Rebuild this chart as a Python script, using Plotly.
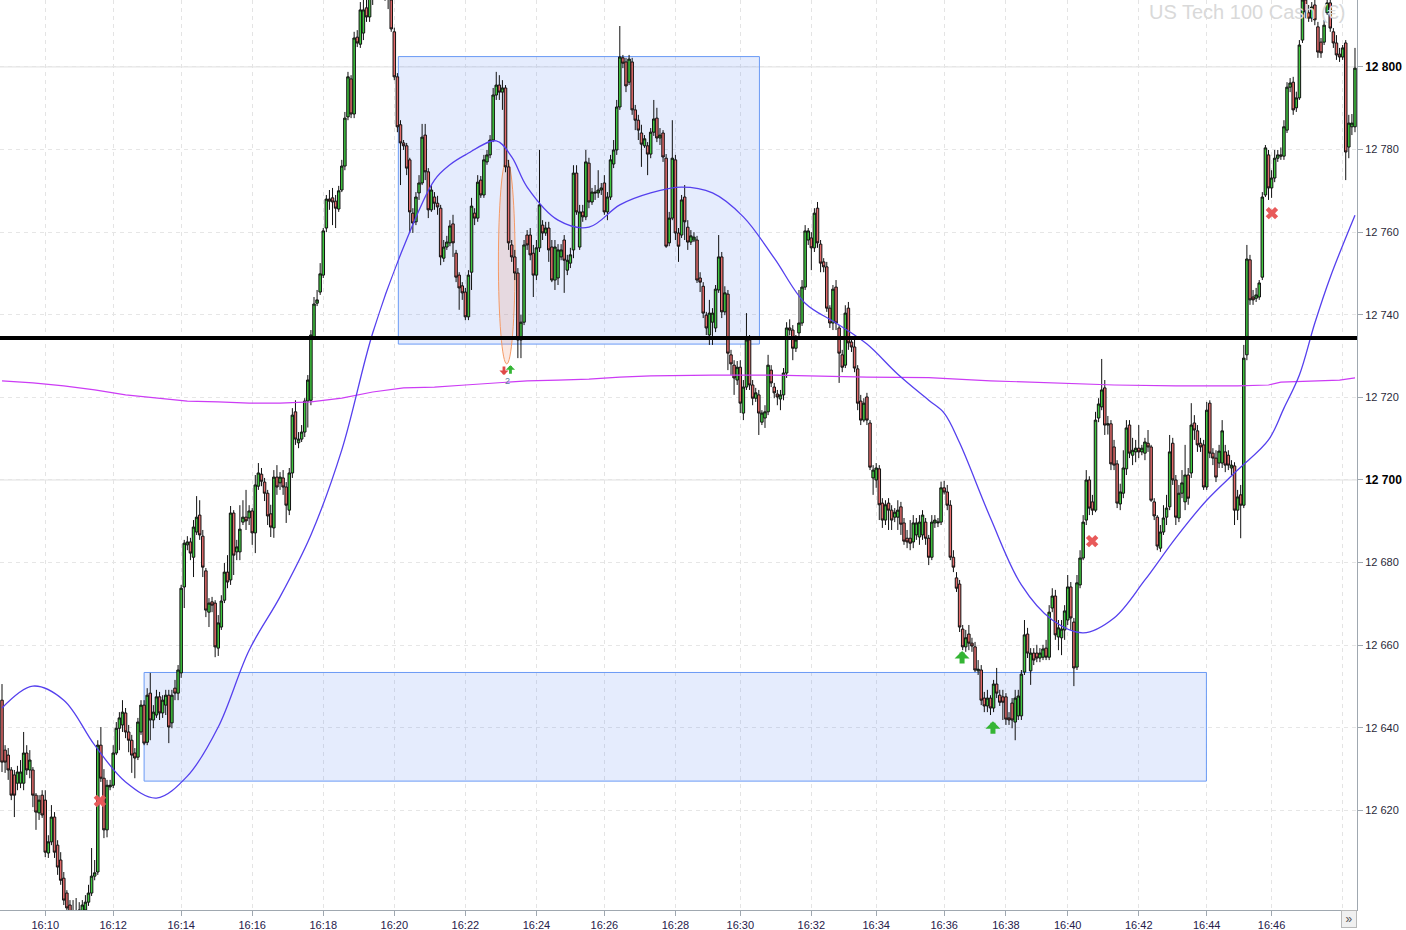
import plotly.graph_objects as go

# ---------------- data ----------------
OPEN = [
 12646.7, 12634.6, 12633.4, 12629.8, 12628.6, 12626.6, 12626.6, 12626.6, 12633.9, 12629.8,
 12629.8, 12623.7, 12619.4, 12623.7, 12622.5, 12609.7, 12612.4, 12618.4, 12611.6, 12608.0,
 12603.6, 12600.0, 12597.1, 12594.0, 12595.4, 12594.4, 12595.4, 12595.9, 12597.8, 12600.0,
 12604.1, 12605.1, 12635.8, 12627.8, 12615.3, 12625.7, 12626.1, 12633.9, 12639.9, 12640.7,
 12643.6, 12639.0, 12637.0, 12633.9, 12632.9, 12639.0, 12645.5, 12636.5, 12648.4, 12641.9,
 12643.1, 12647.5, 12643.6, 12645.5, 12647.9, 12641.2, 12649.6, 12648.4, 12653.3, 12674.1,
 12684.3, 12685.0, 12681.3, 12687.4, 12691.5, 12686.4, 12678.0, 12668.0, 12670.5, 12670.2,
 12659.3, 12664.4, 12670.9, 12677.7, 12675.8, 12692.0, 12682.6, 12682.6, 12689.8, 12691.0,
 12690.8, 12692.5, 12687.2, 12698.5, 12701.4, 12699.5, 12696.8, 12691.8, 12688.4, 12700.7,
 12699.3, 12700.5, 12698.3, 12692.7, 12701.7, 12716.5, 12709.0, 12709.9, 12711.6, 12719.1,
 12719.3, 12734.6, 12742.8, 12745.5, 12749.6, 12761.0, 12768.0, 12768.3, 12767.5, 12765.6,
 12770.2, 12776.0, 12787.9, 12797.1, 12788.6, 12807.2, 12805.5, 12808.2, 12814.3, 12812.1,
 12818.6, 12822.0, 12819.0, 12825.0, 12821.0, 12818.0, 12816.2, 12808.5, 12797.6, 12786.0,
 12781.6, 12780.9, 12777.5, 12764.6, 12762.5, 12769.5, 12771.9, 12783.5, 12774.6, 12765.4,
 12768.5, 12767.0, 12765.8, 12753.7, 12756.4, 12757.4, 12762.0, 12754.9, 12749.6, 12747.0,
 12745.5, 12739.5, 12750.3, 12764.6, 12763.4, 12772.6, 12769.0, 12777.0, 12778.7, 12782.3,
 12793.2, 12795.6, 12793.9, 12794.9, 12775.8, 12756.9, 12754.0, 12750.1, 12733.9, 12738.2,
 12759.3, 12759.3, 12754.9, 12749.6, 12756.2, 12761.7, 12759.8, 12761.0, 12756.4, 12748.4,
 12748.9, 12754.0, 12758.1, 12750.8, 12752.5, 12755.7, 12774.3, 12756.4, 12764.9, 12763.7,
 12776.7, 12767.3, 12769.7, 12769.5, 12770.2, 12771.9, 12764.9, 12768.5, 12776.5, 12779.9,
 12790.3, 12802.2, 12801.2, 12796.3, 12801.2, 12789.6, 12787.1, 12784.0, 12780.9, 12780.9,
 12778.9, 12784.2, 12787.6, 12782.8, 12784.0, 12777.9, 12757.4, 12763.4, 12777.5, 12759.8,
 12759.3, 12768.5, 12761.2, 12757.6, 12758.1, 12758.1, 12748.9, 12746.9, 12739.9, 12735.1,
 12738.2, 12736.8, 12746.0, 12754.0, 12740.7, 12745.0, 12730.3, 12727.8, 12724.2, 12727.3,
 12716.2, 12722.5, 12733.9, 12723.0, 12719.8, 12720.6, 12714.0, 12715.0, 12716.5, 12726.6,
 12722.5, 12720.8, 12719.6, 12720.6, 12725.9, 12736.8, 12736.3, 12731.9, 12735.6, 12738.0, 12746.7,
 12758.1, 12758.6, 12756.2, 12765.8, 12757.1, 12752.8, 12751.6, 12741.6, 12738.0, 12746.7,
 12736.8, 12730.3, 12727.8, 12741.6, 12733.4, 12732.2, 12726.9, 12719.1, 12714.5, 12720.1,
 12713.8, 12700.5, 12700.0, 12702.7, 12694.4, 12690.3, 12694.4, 12692.7, 12691.0, 12691.0,
 12693.5, 12689.6, 12685.9, 12685.9, 12685.0, 12686.7, 12686.2, 12686.7, 12689.8, 12685.9,
 12681.3, 12689.6, 12689.6, 12689.8, 12698.1, 12697.1, 12693.9, 12681.3, 12676.3, 12674.8, 12663.9,
 12659.6, 12662.7, 12660.5, 12659.6, 12653.8, 12654.0, 12647.2, 12645.3, 12647.2, 12644.8,
 12650.6, 12647.9, 12647.5, 12647.5, 12642.4, 12646.0, 12641.4, 12642.9, 12642.9, 12653.5,
 12662.7, 12653.8, 12658.1, 12658.1, 12656.9, 12657.1, 12659.3, 12657.1, 12669.0, 12671.9,
 12662.0, 12661.8, 12663.7, 12666.1, 12674.1, 12665.6, 12654.7, 12674.6, 12681.1, 12690.3,
 12700.0, 12694.7, 12692.7, 12715.0, 12717.7, 12722.3, 12713.3, 12713.6, 12708.0, 12703.9, 12694.2,
 12696.8, 12702.7, 12713.3, 12706.0, 12706.8, 12707.7, 12706.8, 12706.5, 12708.9, 12708.0,
 12694.7, 12691.0, 12683.5, 12687.4, 12691.0, 12693.5, 12708.9, 12700.0, 12690.8, 12696.8,
 12694.7, 12701.2, 12701.7, 12713.8, 12711.9, 12708.9, 12708.5, 12698.3, 12718.6, 12706.5,
 12705.3, 12704.1, 12704.1, 12706.8, 12706.0, 12702.9, 12703.4, 12692.7, 12696.4, 12693.9,
 12730.3, 12753.3, 12744.3, 12744.0, 12744.3, 12749.1, 12769.0, 12778.7, 12770.7, 12773.1,
 12777.9, 12778.7, 12778.4, 12784.7, 12795.1, 12796.3, 12790.1, 12792.5, 12806.5, 12816.2, 12813.1,
 12811.8, 12815.0, 12809.7, 12806.0, 12806.0, 12813.1, 12815.5, 12808.5, 12805.8, 12803.1,
 12802.4, 12805.8, 12780.6, 12785.5, 12785.5,
]
HIGH = [
 12650.6, 12635.8, 12635.1, 12630.5, 12629.8, 12630.8, 12632.2, 12639.0, 12635.8, 12634.6,
 12630.5, 12624.2, 12623.7, 12624.9, 12624.9, 12614.0, 12621.3, 12619.6, 12612.8, 12609.9,
 12605.1, 12600.7, 12598.3, 12598.3, 12598.8, 12597.8, 12598.3, 12599.5, 12602.0, 12610.9,
 12608.0, 12637.0, 12640.2, 12630.0, 12627.4, 12627.4, 12635.8, 12641.4, 12643.8, 12646.7,
 12644.8, 12640.7, 12638.3, 12635.1, 12642.4, 12646.7, 12646.7, 12649.6, 12653.3, 12645.5,
 12649.2, 12648.7, 12647.9, 12649.2, 12649.2, 12649.2, 12651.6, 12655.2, 12674.6, 12685.5,
 12686.4, 12686.0, 12690.3, 12696.1, 12695.1, 12687.9, 12678.7, 12671.4, 12671.7, 12670.9,
 12667.3, 12672.1, 12679.9, 12681.8, 12693.7, 12692.7, 12685.5, 12693.9, 12695.1, 12697.6,
 12693.9, 12693.2, 12701.2, 12704.1, 12702.9, 12700.5, 12697.6, 12694.0, 12702.4, 12703.6,
 12701.9, 12702.4, 12699.5, 12702.9, 12717.4, 12719.3, 12711.6, 12713.3, 12719.8, 12725.4,
 12736.3, 12744.3, 12746.0, 12752.5, 12761.0, 12769.0, 12770.2, 12770.7, 12769.0, 12771.2,
 12777.5, 12789.1, 12798.8, 12798.0, 12808.5, 12808.9, 12815.7, 12818.0, 12817.4, 12821.0,
 12824.0, 12826.0, 12827.0, 12828.0, 12824.0, 12823.0, 12818.0, 12809.5, 12798.5, 12787.1,
 12782.3, 12781.6, 12778.0, 12765.8, 12769.7, 12773.8, 12786.2, 12786.2, 12775.5, 12771.4,
 12769.7, 12768.8, 12766.6, 12758.1, 12759.1, 12762.9, 12764.2, 12755.7, 12750.3, 12747.9,
 12746.5, 12750.8, 12768.3, 12765.8, 12773.8, 12773.6, 12778.7, 12779.9, 12783.5, 12794.9,
 12798.8, 12798.0, 12796.8, 12795.6, 12777.5, 12758.1, 12755.7, 12751.3, 12740.0, 12758.1,
 12760.5, 12761.0, 12756.9, 12758.1, 12779.9, 12762.9, 12762.5, 12762.5, 12758.1, 12758.1,
 12757.1, 12757.1, 12759.3, 12754.5, 12756.2, 12776.2, 12776.2, 12766.6, 12766.6, 12779.9,
 12778.0, 12770.7, 12771.4, 12775.0, 12771.9, 12773.8, 12769.7, 12778.7, 12782.3, 12792.0,
 12809.9, 12802.9, 12802.2, 12802.9, 12802.2, 12790.8, 12788.4, 12786.0, 12783.5, 12781.8,
 12785.2, 12792.0, 12790.1, 12785.2, 12784.7, 12778.9, 12764.9, 12787.1, 12778.7, 12761.0,
 12769.0, 12771.4, 12762.9, 12760.5, 12760.0, 12759.1, 12750.3, 12747.9, 12740.7, 12743.6,
 12741.6, 12747.2, 12759.3, 12755.2, 12746.9, 12746.0, 12731.5, 12729.0, 12728.8, 12729.0,
 12724.2, 12740.4, 12735.1, 12724.2, 12722.3, 12721.8, 12716.9, 12718.1, 12730.3, 12727.8,
 12723.5, 12721.8, 12721.8, 12727.1, 12738.2, 12738.9, 12737.5, 12735.1, 12746.0, 12748.4, 12761.7,
 12761.0, 12760.0, 12765.8, 12767.3, 12758.1, 12753.7, 12752.8, 12742.3, 12747.2, 12748.4,
 12737.5, 12731.5, 12742.3, 12743.1, 12734.6, 12733.9, 12727.8, 12720.6, 12719.8, 12721.1,
 12714.5, 12703.6, 12704.1, 12703.6, 12695.6, 12695.1, 12695.6, 12693.9, 12693.2, 12695.1,
 12694.7, 12690.8, 12687.9, 12690.3, 12691.5, 12690.8, 12691.5, 12692.7, 12690.8, 12686.7,
 12691.5, 12691.5, 12690.8, 12699.6, 12699.8, 12698.8, 12695.1, 12683.0, 12677.7, 12675.8, 12664.9,
 12663.7, 12664.9, 12661.8, 12660.8, 12656.4, 12655.2, 12648.7, 12649.2, 12647.9, 12651.6,
 12654.5, 12649.2, 12649.2, 12648.4, 12643.8, 12647.2, 12649.2, 12649.2, 12654.0, 12666.1,
 12664.2, 12659.3, 12659.3, 12660.1, 12659.3, 12660.1, 12661.3, 12669.7, 12673.8, 12673.4,
 12666.1, 12666.1, 12669.7, 12677.0, 12675.3, 12666.6, 12677.0, 12683.0, 12691.5, 12702.4,
 12700.9, 12696.4, 12716.5, 12719.8, 12729.3, 12724.2, 12715.5, 12714.5, 12709.7, 12704.8, 12699.1,
 12707.2, 12714.5, 12714.5, 12710.2, 12709.7, 12713.3, 12708.5, 12710.2, 12712.1, 12708.5,
 12695.6, 12691.5, 12689.1, 12693.9, 12696.4, 12710.9, 12710.2, 12701.2, 12698.8, 12702.4,
 12708.5, 12702.9, 12718.6, 12715.7, 12713.3, 12710.2, 12709.7, 12718.9, 12719.3, 12707.7,
 12707.2, 12708.5, 12714.5, 12708.5, 12707.2, 12704.8, 12704.3, 12697.6, 12698.8, 12732.7,
 12756.9, 12754.5, 12746.0, 12746.5, 12748.4, 12769.7, 12781.1, 12779.9, 12775.0, 12779.9,
 12779.9, 12780.5, 12787.1, 12796.3, 12797.3, 12797.6, 12794.0, 12806.5, 12818.1, 12817.7, 12815.0,
 12815.7, 12816.7, 12810.9, 12807.0, 12811.4, 12817.4, 12816.2, 12809.4, 12807.7, 12804.6,
 12805.3, 12806.5, 12788.4, 12788.6, 12804.6,
]
LOW = [
 12629.3, 12629.1, 12627.4, 12622.5, 12618.4, 12624.9, 12625.4, 12624.9, 12628.6, 12627.8,
 12620.8, 12615.3, 12617.7, 12618.2, 12608.7, 12608.5, 12611.6, 12608.5, 12604.4, 12602.0,
 12597.1, 12595.4, 12593.5, 12592.3, 12592.0, 12592.5, 12594.0, 12595.2, 12596.9, 12599.3,
 12603.1, 12604.4, 12626.9, 12613.3, 12613.5, 12624.9, 12625.4, 12633.4, 12634.6, 12639.0,
 12637.5, 12634.1, 12629.1, 12627.8, 12632.2, 12638.3, 12635.8, 12635.8, 12637.0, 12639.9,
 12642.4, 12641.9, 12642.4, 12643.1, 12636.3, 12639.9, 12646.7, 12646.7, 12652.1, 12669.0,
 12683.0, 12680.6, 12676.5, 12686.7, 12685.5, 12676.5, 12666.8, 12664.4, 12668.0, 12657.1,
 12657.4, 12663.7, 12670.2, 12673.8, 12674.6, 12677.0, 12680.6, 12680.6, 12689.1, 12687.9,
 12689.1, 12684.3, 12682.3, 12697.6, 12698.5, 12694.9, 12689.1, 12686.2, 12686.0, 12696.4,
 12697.6, 12696.4, 12689.6, 12691.5, 12700.5, 12708.5, 12707.7, 12709.2, 12710.4, 12712.7,
 12718.1, 12733.9, 12742.1, 12744.8, 12748.9, 12760.0, 12765.4, 12761.7, 12761.0, 12764.9,
 12769.7, 12775.0, 12787.1, 12787.6, 12787.6, 12804.8, 12804.6, 12806.5, 12810.9, 12810.9,
 12815.0, 12817.0, 12817.5, 12819.0, 12816.0, 12814.0, 12808.5, 12796.8, 12784.2, 12771.4,
 12779.9, 12773.8, 12759.8, 12759.8, 12761.7, 12767.8, 12771.4, 12772.6, 12763.4, 12764.9,
 12765.4, 12764.2, 12752.0, 12752.8, 12755.7, 12756.6, 12754.0, 12747.9, 12741.2, 12743.6,
 12738.7, 12738.7, 12746.0, 12761.7, 12762.5, 12768.3, 12768.3, 12776.3, 12777.9, 12781.8,
 12792.0, 12792.0, 12789.6, 12774.5, 12755.7, 12752.8, 12748.4, 12729.5, 12729.5, 12737.5,
 12755.7, 12753.2, 12744.3, 12748.4, 12755.2, 12758.1, 12759.1, 12752.8, 12747.9, 12746.0,
 12747.2, 12753.2, 12745.3, 12749.6, 12751.3, 12753.7, 12764.2, 12755.7, 12762.5, 12762.9,
 12765.8, 12766.6, 12767.8, 12768.3, 12769.0, 12764.2, 12762.9, 12767.8, 12775.5, 12778.7,
 12789.6, 12799.7, 12793.9, 12795.6, 12788.4, 12784.7, 12782.3, 12775.8, 12780.4, 12773.8,
 12777.9, 12783.3, 12781.8, 12781.1, 12777.0, 12756.2, 12756.6, 12762.9, 12758.1, 12752.8,
 12758.6, 12758.1, 12755.7, 12756.9, 12757.6, 12747.7, 12745.5, 12739.2, 12735.1, 12732.7,
 12732.7, 12735.8, 12745.3, 12739.2, 12739.9, 12726.6, 12725.4, 12720.6, 12723.0, 12716.2,
 12714.5, 12721.8, 12721.8, 12718.1, 12718.9, 12710.9, 12713.3, 12712.6, 12715.7, 12722.5,
 12719.8, 12718.1, 12716.9, 12719.3, 12724.7, 12735.0, 12729.0, 12731.0, 12734.6, 12737.3, 12746.0,
 12756.9, 12750.8, 12755.2, 12756.2, 12750.3, 12750.3, 12740.7, 12736.8, 12736.3, 12736.3,
 12723.5, 12726.1, 12727.1, 12731.5, 12731.0, 12726.1, 12716.9, 12713.3, 12714.0, 12713.3,
 12702.4, 12696.4, 12698.1, 12690.3, 12688.4, 12689.1, 12687.9, 12687.9, 12689.8, 12687.9,
 12686.7, 12684.3, 12683.5, 12683.0, 12683.5, 12685.5, 12684.3, 12685.5, 12684.3, 12679.4,
 12680.6, 12688.4, 12688.6, 12689.1, 12696.5, 12692.7, 12680.6, 12677.7, 12672.9, 12663.2, 12658.8,
 12658.4, 12658.8, 12658.4, 12653.5, 12652.8, 12645.5, 12643.8, 12643.8, 12643.1, 12643.8,
 12647.2, 12645.3, 12641.9, 12640.7, 12640.7, 12639.9, 12637.0, 12641.9, 12641.9, 12652.8,
 12656.9, 12650.4, 12655.2, 12655.9, 12655.9, 12656.4, 12656.4, 12656.4, 12668.0, 12661.3,
 12658.8, 12657.6, 12661.3, 12664.9, 12663.7, 12650.1, 12654.0, 12673.8, 12680.6, 12689.1,
 12691.5, 12691.5, 12692.2, 12714.0, 12716.9, 12710.9, 12711.0, 12702.4, 12702.4, 12693.2, 12692.7,
 12695.6, 12701.2, 12705.3, 12703.6, 12704.3, 12705.3, 12706.0, 12704.8, 12706.8, 12694.7,
 12690.3, 12683.0, 12682.6, 12686.7, 12689.1, 12692.7, 12698.8, 12689.1, 12689.8, 12695.6,
 12692.7, 12694.0, 12700.5, 12709.7, 12706.8, 12706.8, 12697.6, 12697.6, 12705.3, 12703.6,
 12699.5, 12702.9, 12702.9, 12701.9, 12702.4, 12701.2, 12689.1, 12690.3, 12685.9, 12693.2,
 12729.0, 12742.4, 12742.4, 12743.1, 12743.6, 12748.4, 12768.5, 12767.8, 12768.3, 12772.1,
 12777.0, 12777.5, 12777.5, 12784.0, 12793.9, 12788.4, 12789.1, 12792.0, 12805.8, 12811.8, 12810.9,
 12810.9, 12810.1, 12802.2, 12802.2, 12805.3, 12812.6, 12808.5, 12804.6, 12801.7, 12801.2,
 12801.7, 12772.6, 12777.9, 12783.5, 12784.2,
]
CLOSE = [
 12631.7, 12631.7, 12629.8, 12623.7, 12623.7, 12629.3, 12629.3, 12633.9, 12629.8, 12632.2,
 12623.7, 12619.6, 12622.5, 12618.9, 12609.9, 12612.4, 12618.4, 12609.9, 12606.3, 12603.1,
 12598.3, 12596.4, 12594.9, 12595.4, 12594.0, 12595.9, 12597.1, 12597.8, 12600.0, 12604.1,
 12604.9, 12635.8, 12627.8, 12615.3, 12626.1, 12626.1, 12633.9, 12639.9, 12642.4, 12643.8,
 12639.0, 12637.0, 12633.4, 12632.7, 12641.4, 12645.5, 12636.3, 12647.9, 12641.9, 12643.8,
 12647.5, 12643.6, 12646.7, 12647.9, 12640.2, 12647.9, 12648.4, 12654.0, 12673.8, 12684.7,
 12685.0, 12682.3, 12688.6, 12691.0, 12686.7, 12678.9, 12668.5, 12670.2, 12669.7, 12659.6,
 12665.4, 12670.7, 12677.7, 12675.3, 12692.0, 12681.8, 12683.8, 12688.1, 12691.0, 12690.1,
 12692.5, 12687.2, 12698.8, 12701.7, 12699.7, 12696.8, 12691.3, 12688.6, 12700.7, 12698.3,
 12700.7, 12698.3, 12693.9, 12701.7, 12715.7, 12709.9, 12709.9, 12711.6, 12719.1, 12724.2,
 12735.1, 12742.6, 12743.6, 12749.9, 12760.3, 12768.0, 12767.5, 12767.3, 12765.8, 12770.0,
 12776.0, 12787.6, 12797.6, 12788.6, 12807.0, 12805.8, 12813.8, 12813.8, 12812.1, 12818.6,
 12822.0, 12819.0, 12825.0, 12821.0, 12818.0, 12816.5, 12809.2, 12797.6, 12785.5, 12781.6,
 12780.9, 12775.5, 12764.9, 12762.2, 12768.5, 12771.9, 12783.0, 12774.6, 12765.4, 12770.2,
 12767.0, 12766.1, 12754.0, 12756.4, 12757.6, 12761.5, 12757.4, 12749.1, 12746.5, 12745.3,
 12739.5, 12749.6, 12766.3, 12763.4, 12772.1, 12769.0, 12777.5, 12778.7, 12782.3, 12793.2,
 12795.6, 12793.9, 12794.9, 12775.8, 12757.4, 12754.0, 12750.1, 12733.9, 12738.2, 12756.9,
 12756.9, 12754.5, 12749.6, 12756.2, 12766.6, 12759.8, 12761.0, 12755.7, 12748.4, 12756.4,
 12755.7, 12755.7, 12753.2, 12753.2, 12754.5, 12774.3, 12764.9, 12764.9, 12763.7, 12777.0,
 12767.3, 12769.7, 12769.5, 12770.2, 12770.7, 12764.9, 12768.5, 12777.5, 12779.9, 12790.3,
 12802.4, 12800.9, 12795.4, 12801.9, 12789.6, 12787.1, 12784.7, 12781.3, 12782.6, 12778.9,
 12784.2, 12787.4, 12782.8, 12783.5, 12778.2, 12756.6, 12763.4, 12777.9, 12759.8, 12756.6,
 12767.8, 12762.5, 12757.6, 12759.1, 12758.8, 12748.4, 12747.9, 12740.4, 12736.8, 12740.4,
 12740.4, 12746.2, 12754.0, 12740.7, 12745.3, 12730.7, 12728.1, 12724.7, 12727.3, 12718.6,
 12722.5, 12733.9, 12723.0, 12719.8, 12721.1, 12716.2, 12716.2, 12716.5, 12727.8, 12723.5,
 12721.1, 12720.1, 12720.6, 12725.9, 12736.8, 12736.3, 12731.9, 12733.9, 12738.0, 12746.7, 12760.3,
 12760.3, 12756.2, 12764.6, 12757.4, 12752.5, 12751.6, 12741.6, 12738.0, 12746.2, 12738.0,
 12730.7, 12727.3, 12740.4, 12733.2, 12732.2, 12727.1, 12718.6, 12714.5, 12718.6, 12714.5,
 12703.1, 12702.4, 12702.9, 12694.0, 12690.3, 12694.0, 12692.7, 12690.3, 12692.2, 12692.7,
 12689.3, 12685.2, 12685.0, 12684.7, 12689.6, 12689.6, 12689.8, 12691.5, 12685.9, 12681.3,
 12689.8, 12690.3, 12689.8, 12698.1, 12697.1, 12693.9, 12681.3, 12678.9, 12673.8, 12664.4, 12659.6,
 12661.8, 12660.5, 12659.8, 12654.0, 12654.2, 12646.7, 12645.3, 12647.2, 12644.8, 12650.6,
 12648.4, 12646.2, 12646.2, 12642.1, 12641.9, 12641.9, 12647.2, 12647.7, 12653.0, 12662.5,
 12658.1, 12658.1, 12656.4, 12656.9, 12658.1, 12659.1, 12657.1, 12668.0, 12671.9, 12662.5,
 12664.2, 12663.9, 12668.3, 12674.1, 12666.6, 12654.5, 12675.1, 12681.1, 12689.8, 12700.0,
 12693.2, 12692.7, 12714.5, 12718.4, 12721.8, 12713.3, 12713.6, 12703.9, 12703.6, 12694.4, 12697.1,
 12702.9, 12712.6, 12706.5, 12707.2, 12707.7, 12706.8, 12707.7, 12709.2, 12708.0, 12695.1,
 12691.3, 12684.0, 12687.4, 12690.8, 12693.2, 12706.8, 12700.0, 12691.0, 12696.8, 12699.3,
 12701.2, 12695.6, 12713.3, 12712.1, 12708.5, 12708.0, 12698.3, 12716.9, 12706.5, 12705.3,
 12700.7, 12707.0, 12711.9, 12703.6, 12703.6, 12703.6, 12692.7, 12695.9, 12693.9, 12729.5,
 12753.5, 12743.6, 12743.6, 12744.8, 12747.7, 12768.5, 12780.4, 12770.7, 12773.1, 12777.9,
 12778.7, 12778.4, 12785.5, 12795.1, 12796.1, 12789.6, 12792.5, 12805.3, 12816.2, 12813.3, 12811.8,
 12814.5, 12811.4, 12803.6, 12803.4, 12810.1, 12815.5, 12809.4, 12805.8, 12802.9, 12802.4,
 12804.6, 12779.4, 12786.4, 12786.4, 12799.7,
]
assert len(OPEN) == len(HIGH) == len(LOW) == len(CLOSE), (len(OPEN), len(HIGH), len(LOW), len(CLOSE))
BARS = list(range(len(CLOSE)))

# moving average (blue-violet) sampled at bar indices
MA_BARS = [0, 10, 20, 30, 40, 50, 60, 70, 80, 90, 100, 110, 120, 130, 140, 145, 150, 160, 165, 170,
           180, 190, 200, 210, 220, 230, 240, 250, 260, 270, 280, 290, 300, 305, 310, 320, 330, 340,
           350, 360, 370, 380, 390, 400, 410, 415, 420, 425, 430, 438]
MA_VALUES = [12644.8, 12650.1, 12646.7, 12635.8, 12626.9, 12623.0, 12628.3, 12640.2, 12658.8, 12671.7,
             12686.7, 12707.3, 12735.6, 12756.4, 12772.6, 12776.3, 12778.7, 12782.1, 12778.2, 12770.9,
             12762.9, 12761.2, 12766.6, 12769.5, 12770.9, 12769.5, 12763.7, 12753.7, 12742.8, 12738.0,
             12732.9, 12725.6, 12719.3, 12716.2, 12709.0, 12690.8, 12674.6, 12666.1,
             12663.0, 12666.6, 12675.8, 12686.0, 12695.1, 12702.4, 12709.7, 12717.4, 12725.4, 12738.0,
             12749.1, 12764.1]

# VWAP-like line (magenta)
VW_BARS = [0, 10, 20, 30, 40, 50, 60, 70, 80, 90, 100, 110, 120, 130, 140, 150, 160, 170, 180, 190,
           200, 210, 230, 250, 280, 300, 320, 340, 360, 380, 400, 410, 414, 433, 438]
VW_VALUES = [12724.0, 12723.5, 12722.8, 12721.8, 12720.6, 12719.8, 12719.1, 12718.9, 12718.6, 12718.6,
             12718.9, 12719.8, 12721.3, 12722.3, 12722.5, 12723.0, 12723.5, 12724.0, 12724.2, 12724.4,
             12724.9, 12725.2, 12725.4, 12725.4, 12724.9, 12724.8, 12724.0, 12723.5, 12723.0, 12722.8,
             12722.8, 12723.0, 12723.7, 12724.2, 12724.7]

# time axis labels (bar index where each time falls)
TIME_BARS = [14, 36, 58, 81, 104, 127, 150, 173, 195, 218, 239, 262, 283, 305, 325, 345, 368, 390, 411, 434]
TIME_LABELS = ["16:10", "16:12", "16:14", "16:16", "16:18", "16:20", "16:22", "16:24", "16:26", "16:28",
               "16:30", "16:32", "16:34", "16:36", "16:38", "16:40", "16:42", "16:44", "16:46", ""]

Y_TICKS = [12620, 12640, 12660, 12680, 12700, 12720, 12740, 12760, 12780, 12800]

# drawn objects
KEY_LEVEL = 12734.4
ZONE_START = [128.3, 46.0]
ZONE_END = [245.2, 389.9]
ZONE_TOP = [12802.5, 12653.4]
ZONE_BOTTOM = [12732.9, 12627.1]
ELLIPSE_BARS = [160.7, 166.1]
ELLIPSE_PRICES = [12728.1, 12777.5]

# signals
X_SIGNAL_BARS = [31.7, 352.9, 411.1]
X_SIGNAL_PRICES = [12622.3, 12685.2, 12764.6]
UP_BARS = [310.8, 320.8]
UP_TIPS = [12658.6, 12641.6]
SMALL_DOWN = (162.5, 12725.4)
SMALL_UP = (164.6, 12727.8)
SMALL_LABEL = (163.6, 12724.0, "2")

TITLE = "US Tech 100 Cash (€)"

# ---------------- figure ----------------
FONT = "Liberation Sans, Arial, sans-serif"
fig = go.Figure()

fig.add_trace(go.Scatter(x=VW_BARS, y=VW_VALUES, mode="lines",
                         line=dict(color="#cc3cf5", width=1.2), hoverinfo="skip"))
fig.add_trace(go.Scatter(x=MA_BARS, y=MA_VALUES, mode="lines", line_shape="spline",
                         line=dict(color="#5540ee", width=1.3), hoverinfo="skip"))
fig.add_trace(go.Candlestick(
    x=BARS, open=OPEN, high=HIGH, low=LOW, close=CLOSE,
    increasing=dict(line=dict(color="#111111", width=1), fillcolor="#3fc63f"),
    decreasing=dict(line=dict(color="#111111", width=1), fillcolor="#e36b6b"),
    whiskerwidth=0, hoverinfo="skip"))
fig.add_trace(go.Scatter(x=X_SIGNAL_BARS, y=X_SIGNAL_PRICES, mode="markers",
                         marker=dict(symbol="x", size=11, color="#e85a5a", line=dict(width=0)),
                         hoverinfo="skip"))

shapes = []
for x0, x1, yb, yt in zip(ZONE_START, ZONE_END, ZONE_BOTTOM, ZONE_TOP):
    shapes.append(dict(type="rect", xref="x", yref="y", x0=x0, x1=x1, y0=yb, y1=yt,
                       fillcolor="rgba(80,130,240,0.15)", line=dict(color="#6a9af5", width=1),
                       layer="between"))
shapes.append(dict(type="circle", xref="x", yref="y", x0=ELLIPSE_BARS[0], x1=ELLIPSE_BARS[1],
                   y0=ELLIPSE_PRICES[0], y1=ELLIPSE_PRICES[1],
                   fillcolor="rgba(235,150,125,0.22)", line=dict(color="#f59a66", width=1),
                   layer="between"))
for v in Y_TICKS:
    if v % 100 == 0:
        shapes.append(dict(type="line", xref="paper", yref="y", x0=0, x1=1, y0=v, y1=v,
                           line=dict(color="#e0e0e0", width=1), layer="below"))
shapes.append(dict(type="line", xref="paper", yref="y", x0=0, x1=1, y0=KEY_LEVEL, y1=KEY_LEVEL,
                   line=dict(color="#000000", width=4), layer="above"))

annotations = []
for xb, tip in zip(UP_BARS, UP_TIPS):
    annotations.append(dict(x=xb, y=tip, xref="x", yref="y", text="", showarrow=True,
                            arrowhead=1, arrowsize=0.5, arrowwidth=5, arrowcolor="#34b534",
                            ax=0, ay=14, font=dict(size=1)))
annotations.append(dict(x=SMALL_DOWN[0], y=SMALL_DOWN[1], xref="x", yref="y", text="", showarrow=True,
                        arrowhead=1, arrowsize=0.55, arrowwidth=2.8, arrowcolor="#e04848", ax=0, ay=-10,
                        font=dict(size=1)))
annotations.append(dict(x=SMALL_UP[0], y=SMALL_UP[1], xref="x", yref="y", text="", showarrow=True,
                        arrowhead=1, arrowsize=0.55, arrowwidth=2.8, arrowcolor="#34b534", ax=0, ay=10,
                        font=dict(size=1)))
annotations.append(dict(x=SMALL_LABEL[0], y=SMALL_LABEL[1], xref="x", yref="y", text=SMALL_LABEL[2],
                        showarrow=False, font=dict(family=FONT, size=9, color="#5a7aa0")))
annotations.append(dict(x=0.9926, y=0.9868, xref="paper", yref="paper", text=TITLE, showarrow=False,
                        xanchor="right", yanchor="middle",
                        font=dict(family=FONT, size=20, color="#d9d9d9")))
annotations.append(dict(x=1.0, y=0.0, xref="paper", yref="paper", text="»", showarrow=False,
                        xanchor="right", yanchor="top", width=14, height=16,
                        bgcolor="#f0f0f0", bordercolor="#b8b8b8", borderwidth=1, borderpad=0,
                        font=dict(family=FONT, size=12, color="#555555")))

def fmt(v):
    s = f"{v:,}".replace(",", " ")
    if v % 100 == 0:
        return f"<span style='font-size:12px;color:#000000'><b>{s}</b></span>"
    return s

fig.update_layout(
    width=1406, height=930,
    margin=dict(l=0, r=49, t=0, b=20),
    paper_bgcolor="white", plot_bgcolor="white",
    showlegend=False, hovermode=False,
    boxgap=0.1, boxgroupgap=0.1,
    shapes=shapes, annotations=annotations,
    font=dict(family=FONT, size=11, color="#2a2a3a"),
    xaxis=dict(range=[-0.65, 438.65], tickmode="array", tickvals=TIME_BARS, ticktext=TIME_LABELS,
               showgrid=True, gridcolor="#e4e4e4", griddash="4px,4px", gridwidth=1,
               ticks="outside", ticklen=5, tickcolor="#a0a8b0",
               showline=True, linecolor="#a0a8b0", linewidth=1, zeroline=False,
               rangeslider=dict(visible=False), tickfont=dict(size=11, color="#26204a")),
    yaxis=dict(range=[12595.9, 12816.2], side="right", tickmode="array", tickvals=Y_TICKS,
               ticktext=[fmt(v) for v in Y_TICKS],
               showgrid=True, gridcolor="#e6e6e6", griddash="4px,4px", gridwidth=1,
               ticks="outside", ticklen=5, tickcolor="#a0a8b0",
               showline=True, linecolor="#a0a8b0", linewidth=1, zeroline=False,
               tickfont=dict(size=11, color="#2a2a3a")),
)

fig.write_html("out.html", config={"displayModeBar": False},
               post_script="document.body.style.margin='0px';document.body.style.overflow='hidden';")
